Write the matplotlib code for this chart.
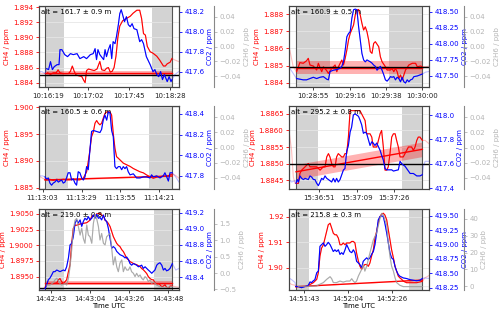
import numpy as np
import matplotlib
matplotlib.use('Agg')
import matplotlib.pyplot as plt
from matplotlib.ticker import MultipleLocator, FuncFormatter

plt.rcParams['font.size'] = 5

# time in s relative to the first x tick of each panel

# panel 1  (10:16)
p1_t_ch4 = [-9, -6, -3, 0, 3, 6, 9, 11, 13, 16, 19, 22, 24, 26, 28, 30, 33, 36, 38, 39.5,
            41, 43, 46, 49, 52, 55, 57, 60, 62, 64, 66, 68, 70, 72, 74, 76, 79, 83, 87, 90,
            94, 97, 99, 101, 103, 105, 108, 111, 115, 118, 122, 124, 126, 129, 131, 134, 138]
p1_ch4 = [1.8853, 1.8852, 1.8852, 1.8853, 1.8851, 1.8853, 1.8853, 1.8857, 1.8853, 1.8852,
          1.8852, 1.8852, 1.8855, 1.8862, 1.8855, 1.8850, 1.8849, 1.8848, 1.8843, 1.8840,
          1.8856, 1.8858, 1.8857, 1.8856, 1.8858, 1.8868, 1.8857, 1.8856, 1.8859, 1.8860,
          1.8854, 1.8855, 1.8860, 1.8875, 1.8900, 1.8915, 1.8922, 1.8925, 1.8928, 1.8932,
          1.8936, 1.8936, 1.8925, 1.8905, 1.8903, 1.8888, 1.8881, 1.8879, 1.8875, 1.8870,
          1.8862, 1.8862, 1.8865, 1.8867, 1.8872, 1.8870, 1.8868]
p1_t_co2 = [-9, -6, -3, -1, 1, 3, 5, 7, 10, 12, 13, 15, 18, 21, 24, 27, 31, 34, 38, 41,
            45, 48, 50, 51.5, 53, 55, 59, 60.5, 62, 64, 66, 67.5, 69, 71, 72.5, 74.5, 76, 77.5, 79, 81,
            83, 85, 87, 89, 91, 94, 97, 99, 101, 104, 108, 111, 113, 115, 117, 119, 121, 123, 126, 128,
            130, 131, 134, 138]
p1_co2 = [417.60, 417.60, 417.58, 417.63, 417.62, 417.70, 417.62, 417.65, 417.67, 417.67,
          417.82, 417.82, 417.77, 417.75, 417.78, 417.77, 417.78, 417.73, 417.75, 417.73,
          417.77, 417.78, 417.83, 417.72, 417.82, 417.77, 417.72, 417.82, 417.75, 417.82,
          417.87, 417.73, 417.90, 417.88, 417.95, 418.07, 418.18, 418.22, 418.17, 418.10,
          418.15, 418.07, 418.05, 418.08, 418.03, 418.02, 417.90, 417.92, 417.88, 417.75,
          417.67, 417.60, 417.62, 417.57, 417.55, 417.60, 417.52, 417.57, 417.50, 417.55,
          417.50, 417.52, 417.57, 417.60]

# panel 2  (10:29)
p2_t_ch4 = [-14, -12, -10, -8, -6, -4, -3, -2, 0, 2, 3, 5, 6, 8, 9, 11, 13, 14, 15, 17,
            18, 19, 20, 21, 22, 24, 25, 26, 27, 28, 29, 30, 31, 32, 33, 34, 35, 36, 37, 39,
            40, 41, 43, 44, 46, 47, 48, 49, 50, 51, 52, 53, 54, 55, 57, 59, 61, 62, 64, 65, 67, 69]
p2_ch4 = [1.88590, 1.88493, 1.88464, 1.88517, 1.88513, 1.88528, 1.88542, 1.88503, 1.88497, 1.88474,
          1.88513, 1.88464, 1.88493, 1.88470, 1.88454, 1.88483, 1.88503, 1.88464, 1.88493, 1.88532,
          1.88503, 1.88542, 1.88590, 1.88649, 1.88687, 1.88736, 1.88794, 1.88823, 1.88827, 1.88794,
          1.88746, 1.88707, 1.88726, 1.88697, 1.88649, 1.88581, 1.88571, 1.88629, 1.88639, 1.88610,
          1.88551, 1.88522, 1.88493, 1.88474, 1.88474, 1.88483, 1.88464, 1.88483, 1.88464, 1.88425,
          1.88445, 1.88416, 1.88445, 1.88474, 1.88503, 1.88513, 1.88513, 1.88493, 1.88497, 1.88493,
          1.88493, 1.88497]
p2_t_co2 = [-14, -12, -10, -8, -6, -4, -2, 0, 2, 4, 6, 8, 9, 10, 12, 14, 16, 17, 18, 19,
            20, 21, 22, 23, 24, 25, 26, 27, 28, 29, 30, 31, 32, 34, 35, 36, 37, 38, 39, 40,
            41, 42, 43, 44, 45, 46, 47, 48, 49, 50, 51, 52, 53, 54, 55, 56, 57, 58, 59, 60,
            62, 64, 65, 67, 69]
p2_co2 = [417.62, 417.54, 417.46, 417.45, 417.44, 417.44, 417.46, 417.48, 417.46, 417.48,
          417.49, 417.45, 417.44, 417.57, 417.59, 417.60, 417.62, 417.65, 417.72, 417.90,
          418.11, 418.16, 418.19, 418.40, 418.53, 418.54, 418.53, 418.27, 418.06, 417.85,
          417.75, 417.72, 417.75, 417.72, 417.70, 417.67, 417.65, 417.59, 417.62, 417.65,
          417.59, 417.52, 417.44, 417.42, 417.45, 417.49, 417.48, 417.49, 417.44, 417.48,
          417.46, 417.41, 417.48, 417.41, 417.39, 417.44, 417.41, 417.44, 417.45, 417.49,
          417.50, 417.52, 417.53, 417.56, 417.57]

# panel 3  (11:13)
p3_t_ch4 = [-2.4, 0, 1.6, 4.9, 7.1, 9.4, 11.6, 13.8, 16.0, 18.3, 20.5, 22.7, 24.9, 27.2, 28.3,
            29.4, 30.5, 31.6, 32.7, 33.9, 35.0, 36.1, 37.2, 38.3, 39.4, 40.5, 41.6, 42.8, 45.0,
            46.1, 47.2, 48.3, 49.4, 50.6, 51.7, 52.8, 53.9, 56.1, 58.4, 60.6, 62.8, 65.0, 67.3,
            69.5, 71.7, 73.9, 76.2, 78.4, 80.6, 82.9, 85.1, 86.6, 88.9, 91.1]
p3_ch4 = [1.8872, 1.8868, 1.8866, 1.8866, 1.8864, 1.8866, 1.8865, 1.8866, 1.8865, 1.8865,
          1.8866, 1.8865, 1.8865, 1.8868, 1.8874, 1.8880, 1.8899, 1.8920, 1.8945, 1.8954,
          1.8970, 1.8975, 1.8970, 1.8967, 1.8970, 1.8979, 1.8988, 1.8991, 1.8991, 1.8985,
          1.8951, 1.8924, 1.8908, 1.8905, 1.8902, 1.8899, 1.8896, 1.8893, 1.8890, 1.8886,
          1.8883, 1.8880, 1.8878, 1.8874, 1.8871, 1.8868, 1.8870, 1.8871, 1.8872, 1.8872,
          1.8874, 1.8876, 1.8873, 1.8868]
p3_t_co2 = [-2.4, 0, 1.6, 2.7, 3.8, 4.9, 6.0, 7.1, 8.2, 9.4, 10.5, 11.6, 12.7, 13.8, 14.9,
            16.0, 17.1, 18.3, 19.4, 20.5, 21.6, 22.7, 23.8, 24.9, 26.1, 27.2, 28.3, 29.4, 30.5,
            31.6, 32.7, 33.9, 36.1, 38.3, 39.4, 40.5, 41.6, 42.8, 43.9, 45.0, 46.1, 47.2, 48.3,
            49.4, 50.6, 51.7, 52.8, 53.9, 55.0, 56.1, 57.2, 58.4, 60.6, 62.8, 65.0, 67.3, 69.5,
            71.7, 72.8, 73.9, 76.2, 78.4, 80.6, 81.7, 82.9, 84.0, 85.1, 86.6, 88.9, 91.1]
p3_co2 = [417.80, 417.80, 417.79, 417.77, 417.78, 417.73, 417.71, 417.73, 417.74, 417.76,
          417.74, 417.75, 417.76, 417.73, 417.74, 417.78, 417.83, 417.83, 417.76, 417.77,
          417.73, 417.71, 417.84, 417.83, 417.78, 417.76, 417.79, 417.89, 417.86, 418.05,
          418.23, 418.24, 418.23, 418.22, 418.25, 418.34, 418.39, 418.34, 418.42, 418.41,
          418.24, 418.18, 417.89, 417.87, 417.89, 417.89, 417.86, 417.89, 417.87, 417.89,
          417.84, 417.81, 417.82, 417.78, 417.78, 417.79, 417.79, 417.78, 417.81, 417.79,
          417.80, 417.78, 417.80, 417.83, 417.79, 417.75, 417.83, 417.83, 417.79, 417.74]

# panel 4  (15:37)
p4_t_ch4 = [-14.0, -12.8, -12.0, -11.2, -10.7, -9.6, -8.9, -8.1, -6.5, -5.0, -4.2, -2.6, -1.1,
            0.5, 2.0, 2.8, 3.6, 4.4, 5.1, 5.9, 6.7, 7.5, 8.2, 9.0, 10.6, 11.4, 12.1, 12.9, 13.7,
            14.5, 16.0, 17.6, 18.4, 19.1, 19.9, 20.7, 21.5, 22.2, 23.8, 24.6, 25.3, 26.9, 27.7,
            28.5, 29.2, 30.0, 30.8, 31.6, 32.3, 33.1, 33.9, 34.7, 35.5, 36.2, 37.0, 37.8, 38.6,
            39.3, 40.1, 40.9, 41.7, 42.5, 43.2, 44.0, 44.8, 45.6, 46.3, 47.1, 48.2, 49.5, 51.3]
p4_ch4 = [1.8860, 1.8854, 1.8846, 1.8844, 1.8844, 1.8844, 1.8847, 1.8848, 1.8849, 1.8850,
          1.8849, 1.8849, 1.8849, 1.8848, 1.8849, 1.8849, 1.8852, 1.8853, 1.8852, 1.8850,
          1.8849, 1.8849, 1.8852, 1.8853, 1.8852, 1.8852, 1.8853, 1.8853, 1.8858, 1.8866,
          1.8866, 1.8866, 1.8866, 1.8866, 1.8865, 1.8864, 1.8863, 1.8859, 1.8859, 1.8858,
          1.8855, 1.8855, 1.8857, 1.8859, 1.8860, 1.8855, 1.8848, 1.8848, 1.8849, 1.8853,
          1.8858, 1.8859, 1.8859, 1.8857, 1.8855, 1.8852, 1.8852, 1.8852, 1.8853, 1.8854,
          1.8855, 1.8855, 1.8855, 1.8854, 1.8855, 1.8857, 1.8858, 1.8858, 1.8857, 1.8857, 1.8856]
p4_t_co2 = [-14.0, -12.8, -11.2, -10.7, -10.1, -9.6, -8.9, -8.1, -7.3, -6.5, -5.0, -4.2, -3.4,
            -2.6, -1.9, -1.1, -0.3, 0.5, 1.2, 2.0, 2.8, 3.6, 4.4, 5.9, 6.7, 7.5, 8.2, 9.0, 9.8,
            10.6, 11.4, 12.1, 12.9, 13.7, 14.5, 15.2, 16.0, 16.8, 17.6, 18.4, 19.1, 19.9, 20.7,
            21.5, 22.2, 23.0, 23.8, 24.6, 25.3, 26.1, 26.9, 27.7, 28.5, 29.2, 30.0, 30.8, 31.6,
            33.9, 34.7, 37.0, 37.8, 38.6, 39.3, 40.1, 40.9, 41.7, 42.5, 44.0, 44.8, 45.6, 46.3,
            47.1, 48.2, 48.7, 49.5, 51.3]
p4_co2 = [417.47, 417.45, 417.46, 417.44, 417.47, 417.45, 417.50, 417.48, 417.47, 417.48,
          417.47, 417.50, 417.49, 417.47, 417.47, 417.44, 417.42, 417.45, 417.48, 417.47,
          417.50, 417.48, 417.47, 417.45, 417.48, 417.45, 417.48, 417.45, 417.47, 417.51,
          417.55, 417.56, 417.70, 417.75, 417.86, 417.90, 418.00, 418.01, 418.00, 417.99,
          417.96, 417.92, 417.85, 417.86, 417.85, 417.80, 417.75, 417.78, 417.77, 417.75,
          417.77, 417.74, 417.71, 417.67, 417.63, 417.56, 417.55, 417.55, 417.54, 417.55,
          417.62, 417.60, 417.59, 417.58, 417.56, 417.54, 417.52, 417.52, 417.51, 417.50,
          417.50, 417.50, 417.51, 417.58, 417.62, 417.62]

# panel 5  (14:43)
p5_t_ch4 = [-6.7, -4.3, -3.3, -2.4, -0.6, 1.3, 3.2, 4.1, 5.0, 5.9, 6.9, 7.8, 8.7, 9.7, 10.6,
            11.5, 12.4, 13.4, 14.3, 16.2, 18.0, 19.9, 21.7, 22.7, 23.6, 24.5, 25.4, 27.3, 28.2,
            29.2, 30.1, 31.0, 31.9, 32.9, 33.8, 34.7, 35.7, 36.6, 37.5, 38.4, 39.4, 40.3, 41.2,
            42.2, 43.1, 44.0, 45.9, 47.7, 49.6, 50.5, 51.4, 52.4, 53.3, 54.2, 55.2, 56.1, 57.0,
            57.9, 58.9, 59.8, 60.7, 61.7, 62.6, 63.5, 64.4, 65.4, 66.3, 67.6, 69.5, 71.3]
p5_ch4 = [1.8931, 1.8931, 1.8933, 1.8939, 1.8939, 1.8939, 1.8940, 1.8945, 1.8947, 1.8942,
          1.8939, 1.8942, 1.8945, 1.8958, 1.8969, 1.9003, 1.9027, 1.9032, 1.9032, 1.9034,
          1.9035, 1.9036, 1.9040, 1.9046, 1.9048, 1.9045, 1.9050, 1.9051, 1.9048, 1.9047,
          1.9040, 1.9038, 1.9035, 1.9030, 1.9022, 1.9014, 1.9008, 1.9003, 1.9000, 1.8998,
          1.8993, 1.8990, 1.8985, 1.8979, 1.8977, 1.8974, 1.8971, 1.8969, 1.8966, 1.8963,
          1.8961, 1.8958, 1.8955, 1.8950, 1.8947, 1.8945, 1.8945, 1.8940, 1.8938, 1.8939,
          1.8937, 1.8934, 1.8935, 1.8937, 1.8933, 1.8931, 1.8935, 1.8935, 1.8934, 1.8933]
p5_t_co2 = [-6.7, -4.3, -3.3, -2.4, -1.5, -0.6, 0.4, 1.3, 2.2, 3.2, 4.1, 5.0, 5.9, 6.9, 7.8,
            8.7, 9.7, 10.6, 11.5, 12.4, 13.4, 14.3, 15.2, 16.2, 17.1, 18.0, 18.9, 19.9, 20.8,
            21.7, 22.7, 23.6, 24.5, 25.4, 26.4, 27.3, 28.2, 29.2, 30.1, 31.0, 31.9, 32.9, 33.8,
            34.7, 35.7, 36.6, 37.5, 38.4, 40.3, 41.2, 42.2, 43.1, 44.0, 44.9, 45.9, 47.7, 48.7,
            49.6, 50.5, 51.4, 52.4, 53.3, 54.2, 55.2, 56.1, 57.0, 57.9, 58.9, 59.8, 60.7, 61.7,
            62.6, 63.5, 64.4, 65.4, 66.3, 67.6, 69.5, 71.3]
p5_co2 = [418.24, 418.25, 418.26, 418.31, 418.37, 418.39, 418.43, 418.47, 418.47, 418.49,
          418.48, 418.47, 418.48, 418.49, 418.48, 418.53, 418.64, 418.80, 418.82, 418.90,
          419.07, 419.11, 419.07, 419.11, 419.03, 419.09, 419.13, 419.11, 419.15, 419.11,
          419.13, 419.17, 419.13, 419.18, 419.13, 419.14, 419.11, 419.17, 419.11, 419.09,
          419.01, 418.88, 418.76, 418.78, 418.76, 418.72, 418.70, 418.68, 418.66, 418.64,
          418.65, 418.62, 418.57, 418.55, 418.57, 418.55, 418.53, 418.54, 418.55, 418.51,
          418.53, 418.51, 418.49, 418.47, 418.45, 418.47, 418.49, 418.55, 418.57, 418.58,
          418.55, 418.49, 418.51, 418.48, 418.49, 418.51, 418.57, 418.49, 418.51]
p5_t_c2h6 = [-2.4, -0.6, 1.3, 2.2, 3.2, 5.0, 5.9, 7.8, 8.7, 9.7, 10.6, 11.5, 12.4, 13.4, 14.3,
             16.2, 17.1, 18.0, 18.9, 19.9, 20.8, 21.7, 22.7, 23.6, 24.5, 25.4, 26.4, 27.3, 28.2,
             29.2, 30.1, 31.0, 32.9, 33.8, 34.7, 35.7, 36.6, 37.5, 38.4, 39.4, 40.3, 41.2, 42.2,
             43.1, 44.0, 44.9, 45.9, 46.8, 47.7, 48.7, 49.6, 50.5, 51.4, 52.4, 53.3, 54.2, 55.2,
             56.1, 57.0, 58.9, 60.7, 62.6, 64.4, 66.3, 67.6, 69.5, 71.3]
p5_c2h6 = [-0.37, -0.37, -0.29, -0.21, -0.16, -0.32, -0.37, -0.32, -0.37, -0.16,
           0.19, 0.70, 1.32, 1.62, 1.67, 1.16, 1.37, 1.06, 0.91, 1.47,
           1.16, 1.11, 0.91, 1.52, 1.78, 1.67, 1.42, 1.01, 1.21, 0.91,
           0.86, 1.11, 1.21, 0.76, 0.25, 0.50, 0.19, 0.04, 0.30, 0.40,
           0.04, 0.19, 0.09, 0.09, 0.19, 0.04, -0.01, -0.11, -0.01, -0.11,
           -0.06, -0.16, -0.21, -0.11, -0.16, -0.26, -0.21, -0.32, -0.27, -0.37,
           -0.42, -0.44, -0.44, -0.42, -0.42, -0.44, -0.44]

# panel 6  (14:52)
p6_t_ch4 = [-7.4, -6.1, -4.4, -4.0, -2.0, 0.5, 1.3, 2.1, 3.0, 4.6, 5.4, 6.3, 7.1, 7.9, 8.7,
            9.6, 10.4, 11.2, 12.0, 12.9, 13.7, 14.5, 15.3, 16.1, 17.0, 17.8, 18.6, 19.4, 20.3,
            21.1, 22.7, 23.6, 24.4, 25.2, 26.0, 26.9, 27.7, 28.5, 29.3, 30.1, 31.0, 31.8, 32.6,
            33.4, 34.3, 35.1, 35.9, 36.7, 37.6, 38.4, 39.2, 40.0, 40.9, 41.7, 42.5, 43.3, 44.2,
            45.0, 45.8, 46.6, 47.4, 48.3, 49.1, 49.9, 50.7, 52.4, 54.0, 55.7, 57.3, 58.5, 59.8, 61.8]
p6_ch4 = [1.8942, 1.8935, 1.8932, 1.8927, 1.8927, 1.8927, 1.8927, 1.8932, 1.8935, 1.8942,
          1.8948, 1.8955, 1.8981, 1.9045, 1.9077, 1.9090, 1.9116, 1.9142, 1.9168, 1.9174,
          1.9155, 1.9135, 1.9129, 1.9129, 1.9116, 1.9090, 1.9090, 1.9097, 1.9090, 1.9097,
          1.9097, 1.9103, 1.9103, 1.9097, 1.9058, 1.9026, 1.9006, 1.8994, 1.9006, 1.9013,
          1.9013, 1.9006, 1.9019, 1.9045, 1.9071, 1.9116, 1.9142, 1.9174, 1.9200, 1.9210,
          1.9213, 1.9206, 1.9187, 1.9148, 1.9110, 1.9071, 1.9039, 1.9006, 1.8987, 1.8968,
          1.8961, 1.8955, 1.8948, 1.8945, 1.8942, 1.8942, 1.8942, 1.8942, 1.8945, 1.8947,
          1.8961, 1.8970]
p6_t_co2 = [-7.4, -6.1, -4.4, -4.0, -2.8, -1.2, 0.5, 2.1, 3.0, 3.8, 4.6, 5.4, 6.3, 7.1, 7.9,
            8.7, 9.6, 10.4, 11.2, 12.0, 12.9, 13.7, 14.5, 15.3, 16.1, 17.0, 17.8, 18.6, 19.4,
            20.3, 21.1, 21.9, 22.7, 23.6, 24.4, 25.2, 26.0, 26.9, 27.7, 28.5, 29.3, 30.1, 31.0,
            31.8, 32.6, 33.4, 34.3, 35.1, 35.9, 36.7, 37.6, 38.4, 39.2, 40.0, 40.9, 41.7, 42.5,
            43.3, 44.2, 45.0, 45.8, 46.6, 47.4, 49.1, 50.7, 52.4, 54.0, 55.7, 57.3, 58.5, 59.8, 61.8]
p6_co2 = [418.42, 418.39, 418.34, 418.27, 418.27, 418.25, 418.27, 418.29, 418.35, 418.34,
          418.37, 418.39, 418.51, 418.54, 418.97, 419.00, 419.03, 418.97, 419.00, 419.04,
          419.00, 418.94, 418.88, 418.91, 418.88, 418.91, 418.83, 418.86, 418.83, 418.91,
          419.00, 418.94, 418.88, 418.86, 418.91, 418.86, 418.71, 418.68, 418.65, 418.60,
          418.71, 418.74, 418.77, 418.74, 418.77, 418.83, 418.88, 419.00, 419.20, 419.43,
          419.49, 419.50, 419.49, 419.37, 419.20, 419.03, 418.86, 418.77, 418.74, 418.62,
          418.54, 418.48, 418.45, 418.42, 418.41, 418.39, 418.38, 418.37, 418.38, 418.41,
          418.42, 418.41]
p6_t_c2h6 = [-2.8, 3.0, 6.3, 7.1, 9.6, 11.2, 12.9, 13.7, 14.5, 16.1, 17.8, 19.4, 21.1, 22.7,
             23.6, 24.4, 25.2, 26.0, 26.9, 28.5, 29.3, 30.1, 31.0, 31.8, 32.6, 34.3, 35.9, 37.6,
             38.4, 39.2, 40.0, 40.9, 41.7, 42.5, 43.3, 44.2, 45.0, 45.8, 47.4, 49.1, 58.5, 61.8]
p6_c2h6 = [0.0, 0.0, 0.2, 0.8, 2.2, 4.1, 5.7, 4.5, 2.2, 2.2, 3.1, 2.5, 3.1, 3.1,
           4.5, 3.1, 2.2, 3.1, 6.1, 10.0, 12.9, 9.0, 12.0, 15.9, 19.8, 27.6, 31.6, 40.4,
           43.3, 42.4, 39.4, 36.5, 25.7, 17.8, 12.0, 9.0, 5.1, 2.2, 0.6, -0.2, -0.2, -0.2]

# sampling windows, background periods, fits, labels
windows = [(-2.8, 131.4), (-10.3, 65.0), (1.6, 86.6), (-10.7, 48.2), (-3.3, 67.6), (-4.0, 58.5)]
bg_left = [(-2.8, 17.6), (-10.3, 9.9), (1.6, 16.7), (-10.7, -0.6), (-3.3, 7.2), (-4.0, 2.6)]
bg_right = [(110.3, 131.4), (45.1, 65.0), (71.0, 86.6), (38.6, 48.2), (57.4, 67.6), (51.9, 58.5)]
fit_ends = [(1.88522, 1.88522), (1.88487, 1.88487), (1.88648, 1.88722),
            (1.88475, 1.88543), (1.89397, 1.89397), (1.89265, 1.89523)]
fit_err = [0.0003, 0.00038, 0.0001, 0.00022, 0.00034, 0.00005]
baseline = [1.8850, 1.88489, None, 1.8850, 1.89317, None]
alts = ['alt = 161.7 \u00b1 0.9 m', 'alt = 160.9 \u00b1 0.5 m', 'alt = 160.5 \u00b1 0.6 m',
        'alt = 295.2 \u00b1 0.8 m', 'alt = 219.0 \u00b1 0.8 m', 'alt = 215.8 \u00b1 0.3 m']
tick_labels = [['10:16:19', '10:17:02', '10:17:45', '10:18:28'],
               ['10:28:55', '10:29:16', '10:29:38', '10:30:00'],
               ['11:13:03', '11:13:29', '11:13:55', '11:14:21'],
               ['15:36:51', '15:37:09', '15:37:26'],
               ['14:42:43', '14:43:04', '14:43:26', '14:43:48'],
               ['14:51:43', '14:52:04', '14:52:26']]
tick_step = [43, 21.67, 26, 17.5, 21.67, 21.67]

# axis ranges and tick settings
xlims = [(-9.1, 138.4), (-14.5, 69.0), (-2.4, 91.1), (-14.0, 51.3), (-6.7, 71.3), (-7.4, 61.8)]
ch4_lims = [(1.88338, 1.8942), (1.88373, 1.88849), (1.88475, 1.90025),
            (1.88422, 1.88675), (1.89287, 1.90574), (1.89135, 1.92284)]
co2_lims = [(417.443, 418.26), (417.324, 418.593), (417.67, 418.48),
            (417.39, 418.077), (418.243, 419.241), (418.21, 419.615)]
c2h6_lims = [(-0.055, 0.055)] * 4 + [(-0.52, 1.949), (-2.2, 45.7)]
ch4_ticks = [(0.002, '%.3f'), (0.001, '%.3f'), (0.005, '%.3f'), (0.0005, '%.4f'), (0.0025, '%.4f'), (0.01, '%.2f')]
co2_ticks = [(0.2, '%.1f'), (0.25, '%.2f'), (0.2, '%.1f'), (0.2, '%.1f'), (0.2, '%.1f'), (0.25, '%.2f')]
c2h6_ticks = [(0.02, '%.2f')] * 4 + [(0.5, '%.1f'), (10, '%.0f')]

panels = [
    (p1_t_ch4, p1_ch4, p1_t_co2, p1_co2, None, None),
    (p2_t_ch4, p2_ch4, p2_t_co2, p2_co2, None, None),
    (p3_t_ch4, p3_ch4, p3_t_co2, p3_co2, None, None),
    (p4_t_ch4, p4_ch4, p4_t_co2, p4_co2, None, None),
    (p5_t_ch4, p5_ch4, p5_t_co2, p5_co2, p5_t_c2h6, p5_c2h6),
    (p6_t_ch4, p6_ch4, p6_t_co2, p6_co2, p6_t_c2h6, p6_c2h6),
]

C2H6_COL = '#b5b5b5'


def fmt(spec):
    return FuncFormatter(lambda v, pos: (spec % v).replace('-', '\u2212'))


def split_plot(ax, t, y, win, color, lw=0.8, faded=0.25, alpha=1.0):
    t = np.asarray(t)
    y = np.asarray(y)
    ax.plot(t, y, color=color, lw=lw, alpha=faded)
    m = (t >= win[0]) & (t <= win[1])
    ax.plot(t[m], y[m], color=color, lw=lw, alpha=alpha)


fig = plt.figure(figsize=(5.0, 3.14), dpi=100)

col_left = [0.078, 0.578]
row_px = [(5.7, 87.3), (105.7, 189.3), (209.3, 290.0)]

for i, (t1, ch4, t2, co2, t3, c2h6) in enumerate(panels):
    r, c = divmod(i, 2)
    top, bot = row_px[r]
    ax = fig.add_axes([col_left[c], 1 - bot / 314, 0.28, (bot - top) / 314])
    ax2 = ax.twinx()
    ax3 = ax.twinx()
    ax3.spines['right'].set_position(('axes', 1.25))
    win = windows[i]

    ax.axvspan(*bg_left[i], color='lightgray', lw=0, zorder=0)
    ax.axvspan(*bg_right[i], color='lightgray', lw=0, zorder=0)
    ax.axvline(win[0], color='#555555', lw=0.8)
    ax.axvline(win[1], color='#555555', lw=0.8)
    ax.grid(axis='y', color='#e6e6e6', lw=0.6)
    ax.set_axisbelow(True)

    split_plot(ax, t1, ch4, win, 'red')
    fe = np.array(fit_ends[i])
    ax.fill_between(win, fe - fit_err[i], fe + fit_err[i], color='red', alpha=0.3, lw=0)
    ax.plot(win, fe, color='red', lw=1.0)
    if baseline[i] is not None:
        ax.axhline(baseline[i], color='black', lw=1.0)
    split_plot(ax2, t2, co2, win, 'blue')
    if t3 is not None:
        split_plot(ax3, t3, c2h6, win, '#9a9a9a', faded=0.2, alpha=0.8)

    ax.set_xlim(*xlims[i])
    ax.set_ylim(*ch4_lims[i])
    ax2.set_ylim(*co2_lims[i])
    ax3.set_ylim(*c2h6_lims[i])

    ax.set_xticks([k * tick_step[i] for k in range(len(tick_labels[i]))])
    ax.set_xticklabels(tick_labels[i])
    ax.yaxis.set_major_locator(MultipleLocator(ch4_ticks[i][0]))
    ax.yaxis.set_major_formatter(fmt(ch4_ticks[i][1]))
    ax2.yaxis.set_major_locator(MultipleLocator(co2_ticks[i][0]))
    ax2.yaxis.set_major_formatter(fmt(co2_ticks[i][1]))
    ax3.yaxis.set_major_locator(MultipleLocator(c2h6_ticks[i][0]))
    ax3.yaxis.set_major_formatter(fmt(c2h6_ticks[i][1]))

    kw = dict(labelsize=5, length=2.5, width=0.6, pad=1.5)
    ax.tick_params(axis='x', colors='#222222', **kw)
    ax.tick_params(axis='y', colors='red', **kw)
    ax2.tick_params(axis='y', colors='blue', **kw)
    ax3.tick_params(axis='y', colors=C2H6_COL, **kw)
    for a in (ax, ax2):
        for s in a.spines.values():
            s.set_linewidth(0.8)
            s.set_color('#444444')
    for name, s in ax3.spines.items():
        s.set_visible(name == 'right')
    ax3.spines['right'].set_color('#888888')
    ax3.spines['right'].set_linewidth(0.8)

    ax.set_ylabel('CH4 / ppm', color='red', fontsize=5, labelpad=2)
    ax2.set_ylabel('CO2 / ppm', color='blue', fontsize=5, labelpad=2)
    ax3.set_ylabel('C2H6 / ppb', color=C2H6_COL, fontsize=5, labelpad=2)
    if r == 2:
        ax.set_xlabel('Time UTC', fontsize=5, labelpad=1)

    ax.text(0.015, 0.965, alts[i], transform=ax.transAxes, ha='left', va='top', fontsize=5)

fig.savefig('out.png', dpi=100)
